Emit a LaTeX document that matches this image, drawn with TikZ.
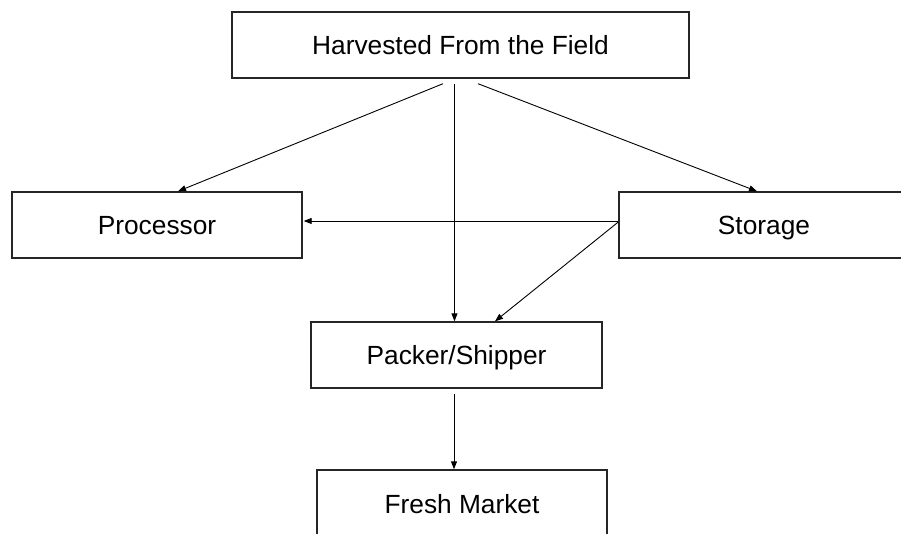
\documentclass[tikz,border=0pt]{standalone}
\usepackage{fontspec}
\setmainfont{Liberation Sans}
\usetikzlibrary{arrows.meta,calc}
\begin{document}
\begin{tikzpicture}[x=1pt,y=-1pt,
  box/.style={draw=black!85,line width=1.4pt,rectangle,inner sep=0pt,
    text height=19pt,text depth=0pt,
    font=\fontsize{26.3}{30}\selectfont},
  arr/.style={draw=black,line width=0.9pt,-{Triangle[length=8pt,width=6pt]}}]
\useasboundingbox (0,0) rectangle (901,534);
\node[box,minimum width=457pt,minimum height=66pt] (h) at (460.5,45) {Harvested From the Field};
\node[box,minimum width=290pt,minimum height=66pt] (p) at (157,225) {Processor};
\node[box,minimum width=290pt,minimum height=66pt] (st) at (764,225) {Storage};
\node[box,minimum width=291pt,minimum height=66pt] (pk) at (456.5,355) {Packer/Shipper};
\node[box,minimum width=290pt,minimum height=68pt] (fm) at (462,504) {Fresh Market};
\draw[arr] ($(h.south)+(-17.5,5)$) -- ($(p.north)+(21,0)$);
\draw[arr] ($(h.south)+(-6,5)$) coordinate (a1) -- (a1 |- pk.north);
\draw[arr] ($(h.south)+(17.5,5)$) -- ($(st.north)+(-7,0)$);
\draw[arr] ($(st.west)+(0,-4)$) coordinate (a4) -- ($(a4 -| p.east)+(1,0)$);
\draw[arr] ($(st.west)+(0,-3)$) -- ($(pk.north)+(38.5,0)$);
\draw[arr] ($(pk.south)+(-2.5,5)$) coordinate (a6) -- (a6 |- fm.north);
\end{tikzpicture}
\end{document}
